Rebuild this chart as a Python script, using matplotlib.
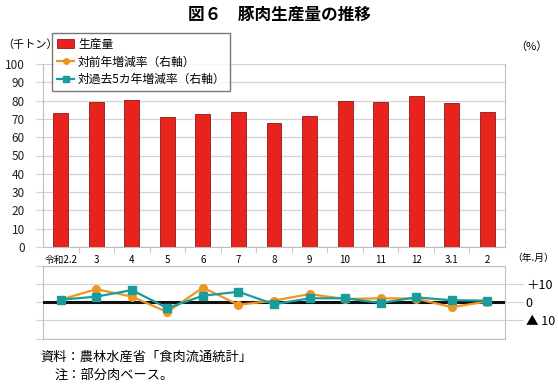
import matplotlib
matplotlib.use("Agg")
import matplotlib.pyplot as plt
from matplotlib.lines import Line2D
from matplotlib.patches import Patch

plt.rcParams['font.family'] = ['Noto Sans CJK JP', 'DejaVu Sans']

months = ['令和2.2', '3', '4', '5', '6', '7', '8', '9', '10', '11', '12', '3.1', '2']
production = [73.4, 79.4, 80.2, 71.2, 72.5, 73.9, 67.9, 71.4, 80.0, 79.1, 82.3, 78.5, 73.6]
yoy_rate = [1.4, 7.2, 3.1, -5.4, 8.1, -1.4, 0.9, 4.5, 1.8, 2.2, 2.0, -2.7, 0.4]
five_year_rate = [1.4, 3.1, 6.7, -3.2, 3.6, 5.8, -1.1, 2.2, 2.2, -0.4, 2.7, 1.1, 0.9]

red = '#e8231b'
orange = '#f0961e'
teal = '#1a9c9c'
grid = '#d4d4d4'

fig = plt.figure(figsize=(5.58, 3.9), dpi=100)
x = list(range(len(months)))

# upper panel: production bars
ax1 = fig.add_axes([43 / 558, 1 - 247 / 390, 462 / 558, 183 / 390])
ax1.bar(x, production, width=0.42, color=red, edgecolor='#8b1a1a', linewidth=0.6, zorder=3)
ax1.set_xlim(-0.5, len(months) - 0.5)
ax1.set_ylim(0, 100)
ax1.set_yticks(range(0, 101, 10))
ax1.yaxis.grid(True, color=grid, linewidth=0.9, zorder=0)
ax1.tick_params(axis='y', length=5, color=grid, pad=8, labelsize=8.5, labelcolor='#222222')
ax1.set_xticks(x)
ax1.set_xticklabels(months, fontsize=7)
ax1.set_xticks([i + 0.5 for i in x[:-1]], minor=True)
ax1.tick_params(axis='x', which='major', length=0, pad=6)
ax1.tick_params(axis='x', which='minor', length=4, color='#bfbfbf')
for s in ['left', 'right', 'bottom']:
    ax1.spines[s].set_color('#bfbfbf')
ax1.spines['top'].set_visible(False)

# lower panel: rates
ax2 = fig.add_axes([43 / 558, 1 - 338.5 / 390, 462 / 558, 72.5 / 390], sharex=ax1)
ax2.plot(x, yoy_rate, color=orange, marker='o', markersize=5.5, linewidth=1.6, zorder=4)
ax2.plot(x, five_year_rate, color=teal, marker='s', markersize=5.5, linewidth=1.6, zorder=5)
ax2.axhline(0, color='#111111', linewidth=2.2, zorder=3)
ax2.set_ylim(-20, 20)
ax2.set_yticks([-20, -10, 0, 10, 20])
ax2.yaxis.grid(True, color=grid, linewidth=0.9, zorder=0)
ax2.tick_params(axis='y', length=5, color=grid, labelleft=False)
ax2.tick_params(axis='x', which='both', length=0, labelbottom=False)
for s in ax2.spines.values():
    s.set_color('#bfbfbf')

ax2r = ax2.twinx()
ax2r.set_ylim(-20, 20)
ax2r.set_yticks([-10, 0, 10])
ax2r.set_yticklabels(['▲ 10', '0', '＋10'], fontsize=9)
ax2r.tick_params(axis='y', length=13, color=grid, pad=2)
for s in ax2r.spines.values():
    s.set_visible(False)

handles = [
    Patch(facecolor=red, edgecolor='#8b1a1a', linewidth=0.6),
    Line2D([], [], color=orange, marker='o', markersize=4, linewidth=1.6),
    Line2D([], [], color=teal, marker='s', markersize=4, linewidth=1.6),
]
labels = ['生産量', '対前年増減率（右軸）', '対過去5カ年増減率（右軸）']
fig.legend(handles, labels, loc='upper left', bbox_to_anchor=(52 / 558, 1 - 33 / 390),
           fontsize=8.5, frameon=True, fancybox=False, edgecolor='#555555',
           borderaxespad=0, handlelength=1.5, handletextpad=0.3, labelspacing=0.4,
           borderpad=0.4)

fig.text(0.5, 1 - 15 / 390, '図６　豚肉生産量の推移', ha='center', va='center',
         fontsize=12, fontweight='bold')
fig.text(2 / 558, 1 - 45 / 390, '（千トン）', ha='left', va='center', fontsize=8)
fig.text(515 / 558, 1 - 47 / 390, '（%）', ha='left', va='center', fontsize=8)
fig.text(512 / 558, 1 - 258 / 390, '（年.月）', ha='left', va='center', fontsize=7)
fig.text(40 / 558, 1 - 357 / 390, '資料：農林水産省「食肉流通統計」', ha='left', va='center', fontsize=9.5)
fig.text(55 / 558, 1 - 375 / 390, '注：部分肉ベース。', ha='left', va='center', fontsize=9.5)

fig.savefig('out.png', dpi=100)
